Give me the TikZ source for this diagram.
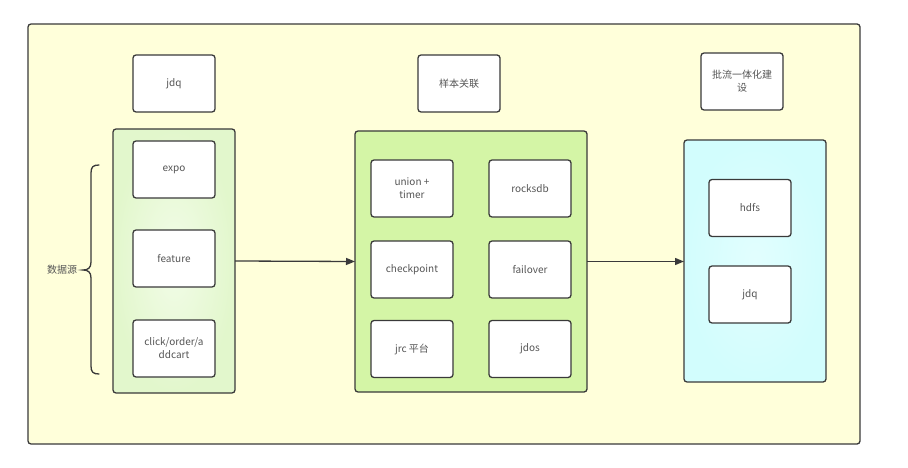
\documentclass[tikz,border=0pt]{standalone}
\usepackage{fontspec}
\setmainfont{Noto Sans CJK SC}
\usetikzlibrary{arrows.meta}
\definecolor{framefill}{HTML}{FFFFDA}
\definecolor{linec}{HTML}{3A3A3A}
\definecolor{txt}{HTML}{555555}
\definecolor{greenA}{HTML}{E2F7CC}
\definecolor{greenB}{HTML}{F2FCE8}
\definecolor{greenC}{HTML}{D4F5A6}
\definecolor{cyanA}{HTML}{D2FDFD}
\definecolor{cyanB}{HTML}{E2FEFE}
\tikzset{
  every node/.style={inner sep=0pt, outer sep=0pt, font=\fontsize{10}{13}\selectfont, text=txt, align=center},
  frm/.style={draw=linec, line width=1.3pt, rounded corners=3pt},
  wbox/.style={frm, fill=white, minimum width=82pt, minimum height=57pt},
  conn/.style={draw=linec, line width=1.3pt, -{Triangle[length=9pt,width=7pt]}},
}
\begin{document}
\begin{tikzpicture}[x=1pt,y=-1pt]
\fill[white] (0,0) rectangle (908,468);
\useasboundingbox (0,0) rectangle (908,468);
\node[frm, fill=framefill, minimum width=832pt, minimum height=420pt] (outer) at (444,234) {};
% headers
\node[wbox] (h1) at (174,83.5) {jdq};
\node[wbox] (h2) at (459,83.5) {样本关联};
\node[wbox] (h3) at (742,81.5) {批流一体化建\\设};
% left container
\node[frm, shading=radial, inner color=greenB, outer color=greenA, minimum width=122pt, minimum height=264pt] (lc) at (174,261) {};
\node[wbox] (expo) at (174,169.5) {expo};
\node[wbox] (feat) at (174,258.5) {feature};
\node[wbox] (click) at (174,348.5) {click/order/a\\ddcart};
% middle container
\node[frm, fill=greenC, minimum width=232pt, minimum height=261pt] (mc) at (471,261.5) {};
\node[wbox] (m1) at (412,188.5) {union +\\timer};
\node[wbox] (m2) at (530,188.5) {rocksdb};
\node[wbox] (m3) at (412,269.5) {checkpoint};
\node[wbox] (m4) at (530,269.5) {failover};
\node[wbox] (m5) at (412,349) {jrc 平台};
\node[wbox] (m6) at (530,349) {jdos};
% right container
\node[frm, shading=radial, inner color=cyanB, outer color=cyanA, minimum width=142pt, minimum height=242pt] (rc) at (755,261) {};
\node[wbox] (hdfs) at (750,208) {hdfs};
\node[wbox] (jdq2) at (750,294.5) {jdq};
% brace and label
\node (src) at (62,270) {数据源};
\draw[draw=linec, line width=1.3pt, line cap=round]
  (99,165) .. controls (93,165) and (91,167) .. (91,173)
  -- (91,262) .. controls (91,268) and (88,270) .. (83,270)
  .. controls (88,270) and (91,272) .. (91,278)
  -- (91,366) .. controls (91,372) and (93,374) .. (99,374);
% connectors
\draw[conn] (lc.east) -- (mc.west);
\draw[conn] (mc.east) -- (mc.east -| rc.west);
\end{tikzpicture}
\end{document}
